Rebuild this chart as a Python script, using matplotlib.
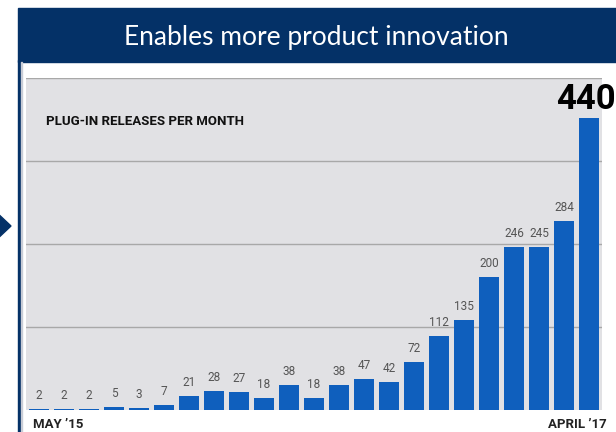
import matplotlib
matplotlib.use("Agg")
import matplotlib.pyplot as plt
from matplotlib.patches import Rectangle, Polygon

values = [2, 2, 2, 5, 3, 7, 21, 28, 27, 18, 38, 18, 38, 47, 42, 72,
          112, 135, 200, 246, 245, 284, 440]
gridlines = [125, 250, 375, 500]
title = "Enables more product innovation"
subtitle = "PLUG-IN RELEASES PER MONTH"
start_label = "MAY \u201915"
end_label = "APRIL \u201917"

NAVY = "#043167"
BAR = "#0f5fbd"
W, H = 616, 432
NARROW = ["Liberation Sans Narrow", "Roboto", "DejaVu Sans"]

fig = plt.figure(figsize=(W / 100, H / 100), dpi=100)
fig.patch.set_facecolor("white")

def fx(px):
    return px / W

def fy(py):
    return 1 - py / H

# banner
fig.patches.append(Rectangle((fx(18), fy(62)), fx(598), 54 / H,
                             transform=fig.transFigure, color=NAVY, zorder=0))
fig.text(fx(316), fy(37), title, color="white", fontsize=19,
         ha="center", va="center", family=["Lato", "DejaVu Sans"])
# left frame line and arrow
fig.patches.append(Rectangle((fx(18), 0), fx(3), fy(60),
                             transform=fig.transFigure, color=NAVY, zorder=0))
fig.patches.append(Rectangle((fx(21), 0), fx(1), fy(62),
                             transform=fig.transFigure, color="#c8ccd6", zorder=0))
fig.patches.append(Polygon([(fx(-6), fy(210)), (fx(11), fy(226)), (fx(-6), fy(242))],
                           closed=True, transform=fig.transFigure, color=NAVY))

ax = fig.add_axes([fx(26), fy(410), fx(576), (410 - 78) / H])
ax.set_facecolor("#e1e1e4")
x = list(range(len(values)))
ax.bar(x, values, width=0.8, color=BAR, zorder=3)
for g in gridlines:
    ax.axhline(g, color="#a8a8a8", linewidth=1, zorder=1)
ax.set_xlim(-0.52, len(values) - 0.48)
ax.set_ylim(0, 500)
for s in ax.spines.values():
    s.set_visible(False)
ax.set_xticks([])
ax.set_yticks([])

for xi, v in zip(x[:-1], values[:-1]):
    ax.annotate(str(v), (xi, v), xytext=(0, 5), textcoords="offset points",
                ha="center", va="bottom", fontsize=8.5, color="#555555",
                family=NARROW)
ax.annotate(str(values[-1]), (x[-1], values[-1]), xytext=(-2, 1),
            textcoords="offset points", ha="center", va="bottom",
            fontsize=25, fontweight="bold", color="black", family=NARROW,
            annotation_clip=False)

ax.text(0.035, 0.87, subtitle, transform=ax.transAxes, fontsize=9.5,
        fontweight="bold", color="#111111", family=NARROW, va="center")

fig.text(fx(33), fy(424), start_label, fontsize=9.5, fontweight="bold",
         color="#222222", family=NARROW, va="center", ha="left")
fig.text(fx(607), fy(424), end_label, fontsize=9.5, fontweight="bold",
         color="#222222", family=NARROW, va="center", ha="right")

fig.savefig("out.png", dpi=100, facecolor="white")
